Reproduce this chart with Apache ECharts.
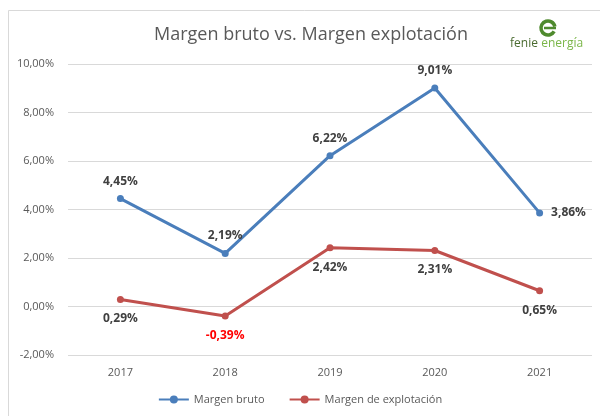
<!DOCTYPE html>
<html>
<head>
<meta charset="utf-8">
<script src="https://cdn.jsdelivr.net/npm/echarts@6/dist/echarts.min.js"></script>
<style>
  html, body { margin: 0; padding: 0; background: #fff; }
  #chart { width: 600px; height: 416px; }
</style>
</head>
<body>
<div id="chart"></div>
<script>
  // datos
  const years = ['2017', '2018', '2019', '2020', '2021'];
  const margenBruto = [4.45, 2.19, 6.22, 9.01, 3.86];
  const margenExplotacion = [0.29, -0.39, 2.42, 2.31, 0.65];
  const brutoPos = ['top', 'top', 'top', 'top', 'right'];

  const fmt = v => v.toFixed(2).replace('.', ',') + '%';

  const chart = echarts.init(document.getElementById('chart'));
  chart.setOption({
    backgroundColor: '#fff',
    animation: false,
    textStyle: { fontFamily: 'Open Sans' },
    title: {
      text: 'Margen bruto vs. Margen explotación',
      left: 306,
      textAlign: 'center',
      top: 21,
      textStyle: { fontSize: 18, fontWeight: 'normal', color: '#595959', fontFamily: 'Open Sans' }
    },
    legend: {
      bottom: 6,
      left: 'center',
      itemWidth: 30,
      itemHeight: 10,
      itemGap: 24,
      textStyle: { color: '#595959', fontSize: 11 },
      data: ['Margen bruto', 'Margen de explotación']
    },
    grid: { left: 68, right: 8, top: 64, bottom: 61 },
    xAxis: {
      type: 'category',
      data: years,
      axisLine: { show: false },
      axisTick: { show: false },
      axisLabel: { color: '#595959', fontSize: 11, margin: 12 }
    },
    yAxis: {
      type: 'value',
      min: -2,
      max: 10,
      interval: 2,
      axisLine: { show: false },
      axisTick: { show: false },
      axisLabel: { color: '#595959', fontSize: 11, margin: 14, formatter: v => fmt(v) },
      splitLine: { lineStyle: { color: '#d9d9d9', width: 1 } }
    },
    graphic: [
      {
        type: 'rect',
        shape: { x: 8.5, y: 10.5, width: 600, height: 420 },
        style: { fill: 'none', stroke: '#d9d9d9', lineWidth: 1 },
        silent: true
      },
      {
        type: 'arc',
        shape: { cx: 548, cy: 28, r: 7, startAngle: 0.5, endAngle: Math.PI * 2 - 0.2 },
        style: { stroke: '#4f8a2e', lineWidth: 3.5, fill: 'none' }
      },
      {
        type: 'line',
        shape: { x1: 544, y1: 28, x2: 556, y2: 28 },
        style: { stroke: '#4f8a2e', lineWidth: 2.5 }
      },
      {
        type: 'text',
        left: 510,
        top: 38,
        style: {
          text: '{a|fenie} {b|energía}',
          rich: {
            a: { fill: '#4a6b30', fontSize: 12, fontFamily: 'Open Sans' },
            b: { fill: '#7ab648', fontSize: 12, fontFamily: 'Open Sans' }
          }
        }
      }
    ],
    series: [
      {
        name: 'Margen bruto',
        type: 'line',
        data: margenBruto.map((v, i) => ({ value: v, label: { position: brutoPos[i] } })),
        symbol: 'circle',
        symbolSize: 7,
        lineStyle: { width: 3, color: '#4a7ebb' },
        itemStyle: { color: '#4a7ebb' },
        label: {
          show: true,
          formatter: p => fmt(p.value),
          color: '#404040',
          fontWeight: 'bold',
          fontSize: 12,
          distance: 8
        }
      },
      {
        name: 'Margen de explotación',
        type: 'line',
        data: margenExplotacion.map(v => ({
          value: v,
          label: { color: v < 0 ? '#ff0000' : '#404040' }
        })),
        symbol: 'circle',
        symbolSize: 7,
        lineStyle: { width: 3, color: '#c0504d' },
        itemStyle: { color: '#c0504d' },
        label: {
          show: true,
          position: 'bottom',
          formatter: p => fmt(p.value),
          fontWeight: 'bold',
          fontSize: 12,
          distance: 10
        }
      }
    ]
  });
</script>
</body>
</html>
